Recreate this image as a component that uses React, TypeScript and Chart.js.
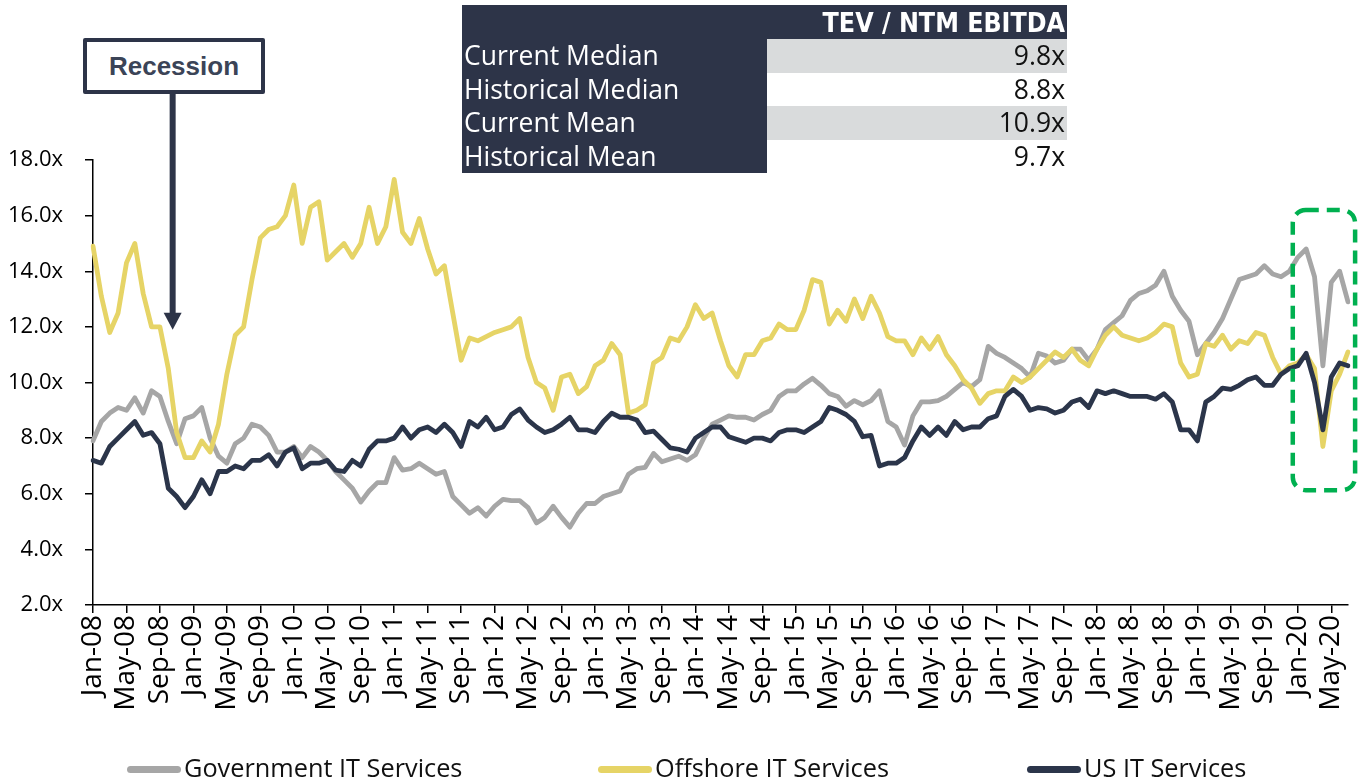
import React, { useEffect, useRef } from 'react';
import { Chart, registerables } from 'chart.js';

Chart.register(...registerables);

// ---------- categories (monthly, Jan-08 .. Jul-20) ----------
const monthNames = ['Jan', 'Feb', 'Mar', 'Apr', 'May', 'Jun', 'Jul', 'Aug', 'Sep', 'Oct', 'Nov', 'Dec'];
const firstYear = 2008;
const monthCount = 151;
const dateLabels: string[] = Array.from({ length: monthCount }, (_, i) =>
  `${monthNames[i % 12]}-${String((firstYear + Math.floor(i / 12)) % 100).padStart(2, '0')}`
);
const labelEvery = 4;

// ---------- series values (TEV / NTM EBITDA multiples) ----------
const governmentValues = [
  7.9, 8.6, 8.9, 9.1, 9.0, 9.45, 8.9, 9.7, 9.5, 8.6,
  7.8, 8.7, 8.8, 9.1, 8.0, 7.35, 7.1, 7.8, 8.0, 8.5,
  8.4, 8.1, 7.5, 7.5, 7.7, 7.3, 7.7, 7.5, 7.2, 6.8,
  6.5, 6.2, 5.7, 6.1, 6.4, 6.4, 7.3, 6.85, 6.9, 7.1,
  6.9, 6.7, 6.8, 5.9, 5.6, 5.3, 5.5, 5.2, 5.55, 5.8,
  5.75, 5.75, 5.5, 4.95, 5.15, 5.55, 5.15, 4.8, 5.3, 5.65,
  5.65, 5.9, 6.0, 6.1, 6.7, 6.9, 6.95, 7.45, 7.15, 7.25,
  7.35, 7.2, 7.4, 8.0, 8.5, 8.65, 8.8, 8.75, 8.75, 8.65,
  8.85, 9.0, 9.5, 9.7, 9.7, 9.95, 10.15, 9.9, 9.6, 9.5,
  9.15, 9.35, 9.2, 9.35, 9.7, 8.6, 8.4, 7.75, 8.8, 9.3,
  9.3, 9.35, 9.5, 9.75, 10.0, 9.85, 10.1, 11.3, 11.05, 10.9,
  10.7, 10.5, 10.2, 11.05, 10.95, 10.7, 10.8, 11.2, 11.2, 10.8,
  11.2, 11.9, 12.15, 12.4, 12.95, 13.2, 13.3, 13.5, 14.0, 13.1,
  12.6, 12.2, 11.0, 11.4, 11.8, 12.3, 13.0, 13.7, 13.8, 13.9,
  14.2, 13.9, 13.8, 14.0, 14.5, 14.8, 13.8, 10.6, 13.6, 14.0,
  12.9,
];

const offshoreValues = [
  14.9, 13.1, 11.8, 12.5, 14.3, 15.0, 13.2, 12.0, 12.0, 10.5,
  8.2, 7.3, 7.3, 7.9, 7.5, 8.5, 10.3, 11.7, 12.0, 13.7,
  15.2, 15.5, 15.6, 16.0, 17.1, 15.0, 16.3, 16.5, 14.4, 14.7,
  15.0, 14.5, 15.0, 16.3, 15.0, 15.6, 17.3, 15.4, 15.0, 15.9,
  14.8, 13.9, 14.2, 12.5, 10.8, 11.6, 11.5, 11.65, 11.8, 11.9,
  12.0, 12.3, 10.9, 10.0, 9.8, 9.0, 10.2, 10.3, 9.6, 9.85,
  10.6, 10.8, 11.4, 11.0, 8.9, 9.0, 9.2, 10.7, 10.9, 11.6,
  11.5, 12.0, 12.8, 12.3, 12.5, 11.5, 10.6, 10.2, 11.0, 11.0,
  11.5, 11.6, 12.1, 11.9, 11.9, 12.6, 13.7, 13.6, 12.1, 12.6,
  12.2, 13.0, 12.3, 13.1, 12.5, 11.65, 11.5, 11.5, 11.0, 11.6,
  11.2, 11.65, 11.0, 10.6, 10.1, 9.8, 9.25, 9.6, 9.7, 9.7,
  10.2, 10.0, 10.2, 10.5, 10.8, 11.1, 10.9, 11.2, 10.8, 10.6,
  11.2, 11.7, 12.0, 11.7, 11.6, 11.5, 11.6, 11.8, 12.1, 12.0,
  10.7, 10.2, 10.3, 11.4, 11.3, 11.7, 11.2, 11.5, 11.4, 11.8,
  11.7, 10.9, 10.3, 10.6, 10.7, 11.0, 10.5, 7.7, 9.7, 10.3,
  11.1,
];

const usValues = [
  7.2, 7.1, 7.7, 8.0, 8.3, 8.6, 8.1, 8.2, 7.8, 6.2,
  5.9, 5.5, 5.9, 6.5, 6.0, 6.8, 6.8, 7.0, 6.9, 7.2,
  7.2, 7.4, 7.0, 7.5, 7.65, 6.9, 7.1, 7.1, 7.2, 6.85,
  6.8, 7.2, 7.0, 7.6, 7.9, 7.9, 8.0, 8.4, 8.0, 8.3,
  8.4, 8.2, 8.5, 8.2, 7.7, 8.6, 8.4, 8.75, 8.3, 8.4,
  8.85, 9.05, 8.65, 8.4, 8.2, 8.3, 8.5, 8.75, 8.3, 8.3,
  8.2, 8.6, 8.9, 8.75, 8.75, 8.65, 8.2, 8.25, 7.95, 7.65,
  7.6, 7.5, 8.0, 8.2, 8.4, 8.4, 8.05, 7.95, 7.85, 8.0,
  8.0, 7.9, 8.2, 8.3, 8.3, 8.2, 8.4, 8.6, 9.1, 9.0,
  8.85, 8.6, 8.05, 8.1, 7.0, 7.1, 7.1, 7.3, 7.9, 8.4,
  8.1, 8.4, 8.1, 8.6, 8.3, 8.4, 8.4, 8.7, 8.8, 9.5,
  9.75, 9.5, 9.0, 9.1, 9.05, 8.9, 9.0, 9.3, 9.4, 9.1,
  9.7, 9.6, 9.7, 9.6, 9.5, 9.5, 9.5, 9.4, 9.6, 9.3,
  8.3, 8.3, 7.9, 9.3, 9.5, 9.8, 9.75, 9.9, 10.1, 10.2,
  9.9, 9.9, 10.3, 10.5, 10.6, 11.05, 10.0, 8.3, 10.2, 10.7,
  10.6,
];

const seriesNames = ['Government IT Services', 'Offshore IT Services', 'US IT Services'];
const seriesColors = ['#a6a6a6', '#e6d466', '#2b354a'];

// ---------- axis ----------
const yMin = 2;
const yMax = 18;
const yStep = 2;

// ---------- table ----------
const tableTitle = 'TEV / NTM EBITDA';
const tableRowNames = ['Current Median', 'Historical Median', 'Current Mean', 'Historical Mean'];
const tableRowValues = ['9.8x', '8.8x', '10.9x', '9.7x'];

// ---------- annotations ----------
const recessionText = 'Recession';
const recessionMonth = 9.52;
const recessionTipValue = 11.9;
const highlightRange = { fromMonth: 143.4, toMonth: 150.85, top: 16.2, bottom: 6.13 };

const NAVY = '#2d3448';
const FONT = '"Open Sans", "Noto Sans", sans-serif';

const annotationPlugin = {
  id: 'annotationsDraw',
  afterDatasetsDraw(chart: any) {
    const { ctx, scales } = chart;
    const x = scales.x;
    const y = scales.y;
    ctx.save();
    // recession arrow
    const ax = x.getPixelForValue(recessionMonth);
    const tip = y.getPixelForValue(recessionTipValue);
    ctx.strokeStyle = NAVY;
    ctx.fillStyle = NAVY;
    ctx.lineWidth = 6;
    ctx.beginPath();
    ctx.moveTo(ax, 92);
    ctx.lineTo(ax, tip - 15);
    ctx.stroke();
    ctx.beginPath();
    ctx.moveTo(ax - 9, tip - 17);
    ctx.lineTo(ax + 9, tip - 17);
    ctx.lineTo(ax, tip);
    ctx.closePath();
    ctx.fill();
    // highlight box
    const l = x.getPixelForValue(highlightRange.fromMonth);
    const r = x.getPixelForValue(highlightRange.toMonth);
    const t = y.getPixelForValue(highlightRange.top);
    const b = y.getPixelForValue(highlightRange.bottom);
    const rad = 13;
    ctx.setLineDash([13, 8]);
    ctx.lineWidth = 4.5;
    ctx.strokeStyle = '#00b050';
    ctx.beginPath();
    ctx.moveTo(l + rad, t);
    ctx.lineTo(r - rad, t);
    ctx.arcTo(r, t, r, t + rad, rad);
    ctx.lineTo(r, b - rad);
    ctx.arcTo(r, b, r - rad, b, rad);
    ctx.lineTo(l + rad, b);
    ctx.arcTo(l, b, l, b - rad, rad);
    ctx.lineTo(l, t + rad);
    ctx.arcTo(l, t, l + rad, t, rad);
    ctx.closePath();
    ctx.stroke();
    ctx.restore();
  },
};

export default function App() {
  const canvasRef = useRef<HTMLCanvasElement | null>(null);

  useEffect(() => {
    const canvas = canvasRef.current;
    if (!canvas) return;
    const valueSets = [governmentValues, offshoreValues, usValues];
    const chart = new Chart(canvas, {
      type: 'line',
      data: {
        labels: dateLabels,
        datasets: valueSets.map((vals, i) => ({
          label: seriesNames[i],
          data: vals,
          borderColor: seriesColors[i],
          backgroundColor: seriesColors[i],
          borderWidth: 4.8,
          pointRadius: 0,
          tension: 0,
          fill: false,
          borderJoinStyle: 'round' as const,
          borderCapStyle: 'round' as const,
          order: 3 - i,
        })),
      },
      options: {
        animation: false,
        responsive: false,
        devicePixelRatio: 1,
        layout: { padding: { top: 160, right: 20, left: 0, bottom: 0 } },
        plugins: { legend: { display: false }, tooltip: { enabled: false } },
        scales: {
          x: {
            type: 'category',
            offset: false,
            grid: { drawOnChartArea: false, drawTicks: true, tickLength: 8, color: '#000', lineWidth: 1.5 },
            border: { display: true, color: '#000', width: 1.5 },
            ticks: {
              autoSkip: false,
              maxRotation: 90,
              minRotation: 90,
              padding: 2,
              color: '#000',
              font: { family: FONT, size: 28 },
              callback: (_v: any, i: number) => (i % labelEvery === 0 ? dateLabels[i] : null),
            },
            afterFit: (s: any) => {
              s.height = 175;
            },
          },
          y: {
            min: yMin,
            max: yMax,
            grid: { drawOnChartArea: false, drawTicks: true, tickLength: 8, color: '#000', lineWidth: 1.5 },
            border: { display: true, color: '#000', width: 1.5 },
            ticks: {
              stepSize: yStep,
              padding: 22,
              color: '#000',
              font: { family: FONT, size: 22 },
              callback: (v: any) => Number(v).toFixed(1) + 'x',
            },
            afterFit: (s: any) => {
              s.width = 93;
            },
          },
        },
      } as any,
      plugins: [annotationPlugin],
    });
    return () => chart.destroy();
  }, []);

  const legendSwatchX = [127, 598, 1027];

  return (
    <div style={{ position: 'fixed', left: 0, top: 0, width: 1368, height: 780, overflow: 'hidden', background: '#fff', fontFamily: FONT }}>
      <canvas ref={canvasRef} width={1368} height={780} style={{ position: 'absolute', left: 0, top: 0, width: 1368, height: 780 }} />

      {/* summary table */}
      <div style={{ position: 'absolute', left: 462, top: 5, width: 605, background: NAVY }}>
        <div style={{ height: 34, display: 'flex', alignItems: 'center', justifyContent: 'flex-end', paddingRight: 2, color: '#fff', fontFamily: '"Liberation Sans Narrow", "DejaVu Sans Condensed", sans-serif', fontWeight: 700, fontSize: 26.5 }}>
          {tableTitle}
        </div>
        {tableRowNames.map((name, i) => (
          <div key={name} style={{ display: 'flex', height: 33.5 }}>
            <div style={{ width: 303, color: '#fff', fontSize: 26.5, lineHeight: '33.5px', paddingLeft: 2, whiteSpace: 'nowrap' }}>{name}</div>
            <div style={{ flex: 1, background: i % 2 === 0 ? '#d9dbdc' : '#fff', color: '#111', fontSize: 26.5, lineHeight: '33.5px', textAlign: 'right', paddingRight: 2 }}>
              {tableRowValues[i]}
            </div>
          </div>
        ))}
      </div>

      {/* recession label */}
      <div style={{ position: 'absolute', left: 83, top: 38, width: 182, height: 56, boxSizing: 'border-box', border: `4px solid ${NAVY}`, borderRadius: 2, background: '#fff', display: 'flex', alignItems: 'center', justifyContent: 'center', fontFamily: '"Liberation Sans", Arial, sans-serif', fontWeight: 700, fontSize: 26, color: '#3b4457' }}>
        {recessionText}
      </div>

      {/* legend */}
      {seriesNames.map((name, i) => (
        <div key={name} style={{ position: 'absolute', left: legendSwatchX[i], top: 752, display: 'flex', alignItems: 'center', height: 30 }}>
          <div style={{ width: 54, height: 7, borderRadius: 4, background: seriesColors[i], marginRight: 3, marginTop: 4 }} />
          <span style={{ fontSize: 25.3, color: '#111', whiteSpace: 'nowrap' }}>{name}</span>
        </div>
      ))}
    </div>
  );
}
